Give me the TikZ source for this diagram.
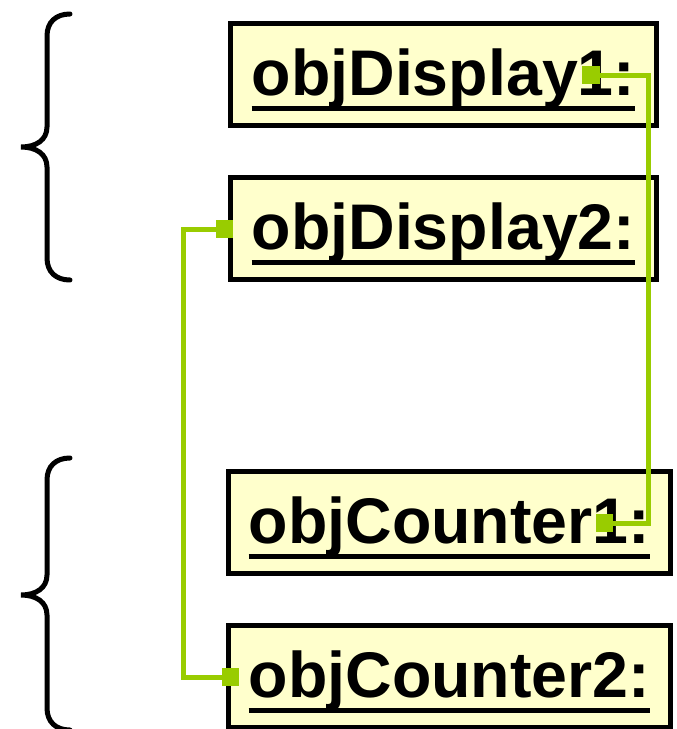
\documentclass[tikz,border=0pt]{standalone}
\usepackage{fontspec}
\setmainfont{Liberation Sans}
\definecolor{boxfill}{HTML}{FFFFCC}
\definecolor{linkgreen}{HTML}{99CC00}
\begin{document}
\begin{tikzpicture}[x=1pt,y=-1pt,
  objbox/.style={draw=black, line width=5pt, fill=boxfill, minimum width=#1, minimum height=102pt, inner sep=0pt},
  lbl/.style={anchor=base, inner sep=0pt, font=\fontsize{64.5}{64.5}\selectfont\bfseries},
  uline/.style={line width=5.5pt},
  link/.style={draw=linkgreen, line width=5pt},
  sq/.style={fill=linkgreen, minimum size=17.5pt, inner sep=0pt, draw=none},
  brace/.style={line width=5pt, line cap=round}]
\useasboundingbox (0,0) rectangle (677,729);
% braces
\draw[brace] (70,14) .. controls (56,14) and (47,22) .. (47,36) -- (47,127)
  .. controls (47,140) and (36,147) .. (21,147)
  .. controls (36,147) and (47,154) .. (47,167) -- (47,258)
  .. controls (47,272) and (56,280) .. (70,280);
\draw[brace] (70,458) .. controls (56,458) and (47,466) .. (47,480) -- (47,575)
  .. controls (47,588) and (36,595) .. (21,595)
  .. controls (36,595) and (47,602) .. (47,615) -- (47,708)
  .. controls (47,722) and (56,730) .. (70,730);
% boxes
\node[objbox=426pt] (d1) at (443.5,74.5) {};
\node[objbox=426pt] (d2) at (443.5,228.5) {};
\node[objbox=442pt] (c1) at (449.5,522.5) {};
\node[objbox=442pt] (c2) at (449.5,676.5) {};
% labels
\node[lbl] (t1) at (443.5,95) {objDisplay1:};
\node[lbl] (t2) at (443.5,249) {objDisplay2:};
\node[lbl] (t3) at (449.5,543) {objCounter1:};
\node[lbl] (t4) at (449.5,697) {objCounter2:};
\foreach \t in {t1,t2,t3,t4}
  \draw[uline] ([yshift=-13.5pt]\t.base west) -- ([yshift=-13.5pt]\t.base east);
% connector squares
\node[sq] (s1) at (591,75) {};
\node[sq] (s2) at (224.5,229) {};
\node[sq] (s3) at (604.5,523) {};
\node[sq] (s4) at (230.5,677) {};
\coordinate (b1) at (648,523);
\coordinate (b2) at (183,677);
\draw[link] (s1.center) -| (b1) -- (s3.center);
\draw[link] (s2.center) -| (b2) -- (s4.center);
\node[sq] at (s1) {};
\node[sq] at (s2) {};
\node[sq] at (s3) {};
\node[sq] at (s4) {};
\end{tikzpicture}
\end{document}
